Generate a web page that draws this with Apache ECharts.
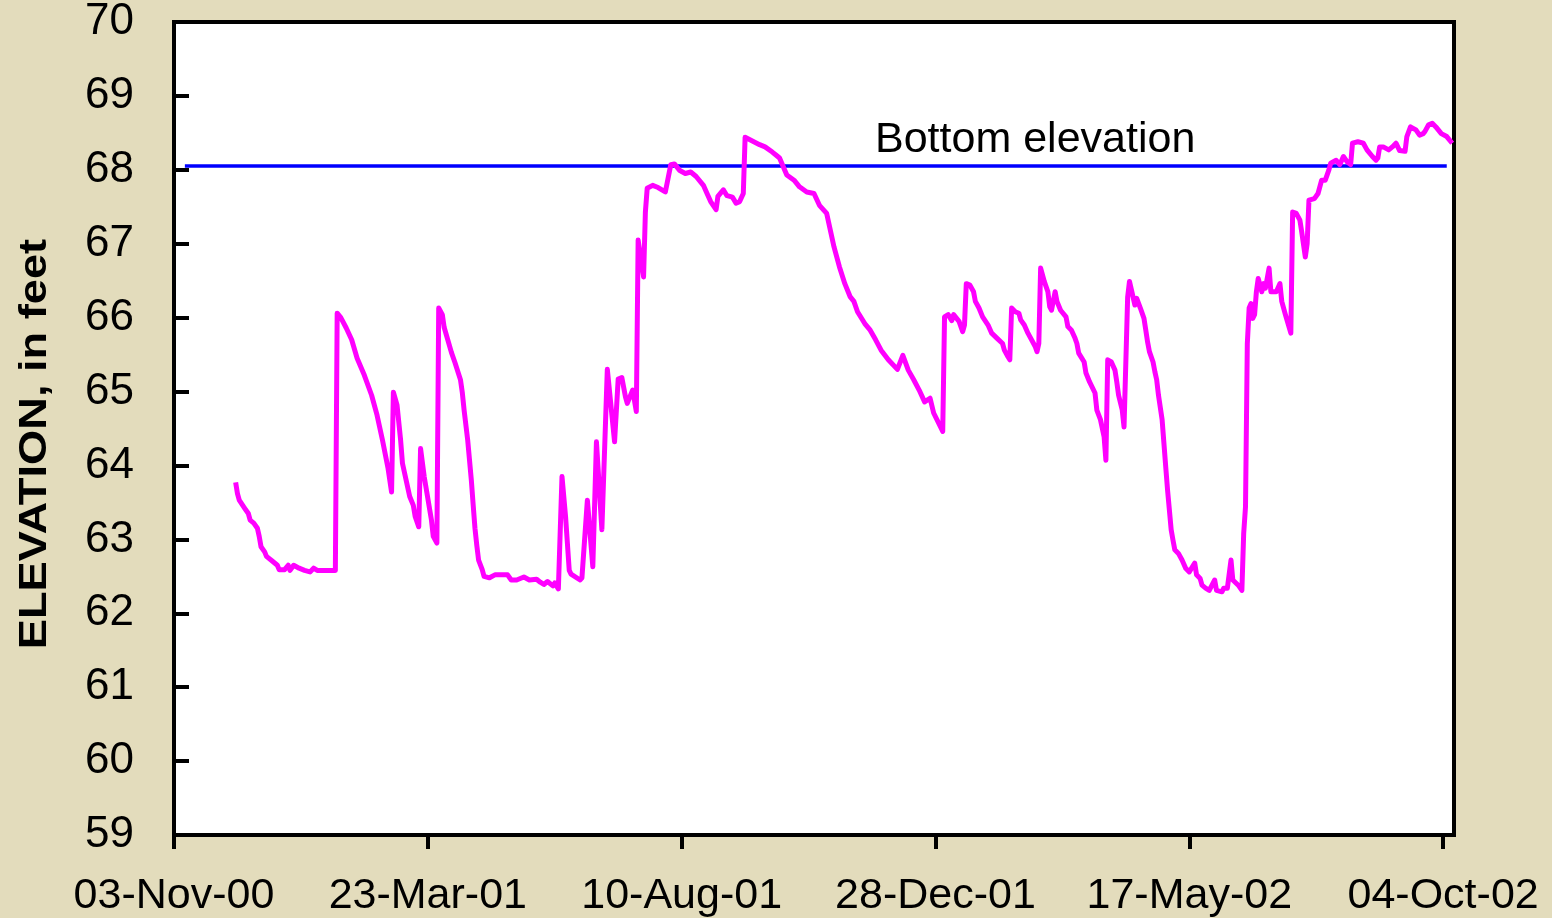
<!DOCTYPE html>
<html>
<head>
<meta charset="utf-8">
<title>Elevation</title>
<script src="https://cdn.jsdelivr.net/npm/echarts@6/dist/echarts.min.js"></script>
<style>
  html, body { margin: 0; padding: 0; background: #e3dcbc; }
  #chart { width: 1552px; height: 918px; }
</style>
</head>
<body>
<div id="chart"></div>
<script>
// axis range and ticks
const startDate = "2000-11-03";
const endDate = "2002-10-10";
const xTickLabels = ["03-Nov-00", "23-Mar-01", "10-Aug-01", "28-Dec-01", "17-May-02", "04-Oct-02"];
const xTickStepDays = 140;

// water level record
const dates = [
  "2000-12-07", "2000-12-08", "2000-12-09", "2000-12-12", "2000-12-14", "2000-12-15", "2000-12-17", "2000-12-19",
  "2000-12-20", "2000-12-21", "2000-12-23", "2000-12-24", "2000-12-27", "2000-12-30", "2000-12-31", "2001-01-03",
  "2001-01-05", "2001-01-06", "2001-01-08", "2001-01-11", "2001-01-14", "2001-01-17", "2001-01-19", "2001-01-21",
  "2001-01-31", "2001-02-01", "2001-02-03", "2001-02-06", "2001-02-09", "2001-02-12", "2001-02-16", "2001-02-20",
  "2001-02-23", "2001-02-26", "2001-03-01", "2001-03-03", "2001-03-04", "2001-03-06", "2001-03-08", "2001-03-09",
  "2001-03-13", "2001-03-15", "2001-03-16", "2001-03-18", "2001-03-19", "2001-03-21", "2001-03-25", "2001-03-26",
  "2001-03-28", "2001-03-29", "2001-03-31", "2001-04-01", "2001-04-05", "2001-04-07", "2001-04-10", "2001-04-11",
  "2001-04-12", "2001-04-14", "2001-04-16", "2001-04-17", "2001-04-18", "2001-04-19", "2001-04-20", "2001-04-22",
  "2001-04-23", "2001-04-26", "2001-04-29", "2001-05-06", "2001-05-08", "2001-05-11", "2001-05-15", "2001-05-18",
  "2001-05-22", "2001-05-24", "2001-05-26", "2001-05-28", "2001-05-31", "2001-06-01", "2001-06-03", "2001-06-05",
  "2001-06-07", "2001-06-09", "2001-06-10", "2001-06-15", "2001-06-16", "2001-06-19", "2001-06-22", "2001-06-24",
  "2001-06-27", "2001-06-30", "2001-07-04", "2001-07-06", "2001-07-08", "2001-07-10", "2001-07-11", "2001-07-14",
  "2001-07-16", "2001-07-17", "2001-07-20", "2001-07-21", "2001-07-22", "2001-07-25", "2001-07-28", "2001-08-01",
  "2001-08-02", "2001-08-04", "2001-08-06", "2001-08-09", "2001-08-12", "2001-08-15", "2001-08-18", "2001-08-22",
  "2001-08-24", "2001-08-26", "2001-08-29", "2001-08-30", "2001-09-02", "2001-09-04", "2001-09-07", "2001-09-09",
  "2001-09-11", "2001-09-13", "2001-09-14", "2001-09-18", "2001-09-22", "2001-09-25", "2001-09-29", "2001-10-01",
  "2001-10-03", "2001-10-07", "2001-10-11", "2001-10-14", "2001-10-18", "2001-10-22", "2001-10-25", "2001-10-29",
  "2001-11-02", "2001-11-05", "2001-11-08", "2001-11-11", "2001-11-13", "2001-11-15", "2001-11-19", "2001-11-22",
  "2001-11-25", "2001-11-28", "2001-12-02", "2001-12-07", "2001-12-10", "2001-12-13", "2001-12-16", "2001-12-19",
  "2001-12-22", "2001-12-25", "2001-12-27", "2002-01-01", "2002-01-02", "2002-01-04", "2002-01-06", "2002-01-07",
  "2002-01-10", "2002-01-12", "2002-01-13", "2002-01-14", "2002-01-16", "2002-01-18", "2002-01-19", "2002-01-21",
  "2002-01-23", "2002-01-26", "2002-01-28", "2002-01-31", "2002-02-03", "2002-02-04", "2002-02-06", "2002-02-07",
  "2002-02-08", "2002-02-10", "2002-02-12", "2002-02-13", "2002-02-15", "2002-02-17", "2002-02-18", "2002-02-21",
  "2002-02-22", "2002-02-23", "2002-02-24", "2002-02-26", "2002-02-28", "2002-03-01", "2002-03-02", "2002-03-04",
  "2002-03-05", "2002-03-07", "2002-03-10", "2002-03-11", "2002-03-13", "2002-03-15", "2002-03-16", "2002-03-17",
  "2002-03-20", "2002-03-21", "2002-03-23", "2002-03-26", "2002-03-27", "2002-03-29", "2002-03-31", "2002-04-01",
  "2002-04-02", "2002-04-04", "2002-04-06", "2002-04-07", "2002-04-08", "2002-04-10", "2002-04-11", "2002-04-13",
  "2002-04-14", "2002-04-17", "2002-04-18", "2002-04-20", "2002-04-22", "2002-04-23", "2002-04-24", "2002-04-25",
  "2002-04-27", "2002-04-28", "2002-04-29", "2002-04-30", "2002-05-02", "2002-05-03", "2002-05-04", "2002-05-05",
  "2002-05-06", "2002-05-07", "2002-05-08", "2002-05-09", "2002-05-11", "2002-05-13", "2002-05-15", "2002-05-17",
  "2002-05-20", "2002-05-21", "2002-05-23", "2002-05-24", "2002-05-26", "2002-05-28", "2002-05-31", "2002-06-01",
  "2002-06-04", "2002-06-05", "2002-06-07", "2002-06-09", "2002-06-10", "2002-06-13", "2002-06-15", "2002-06-16",
  "2002-06-17", "2002-06-18", "2002-06-19", "2002-06-20", "2002-06-21", "2002-06-22", "2002-06-23", "2002-06-24",
  "2002-06-26", "2002-06-27", "2002-06-28", "2002-06-30", "2002-07-01", "2002-07-04", "2002-07-06", "2002-07-07",
  "2002-07-09", "2002-07-12", "2002-07-13", "2002-07-15", "2002-07-17", "2002-07-18", "2002-07-20", "2002-07-21",
  "2002-07-22", "2002-07-25", "2002-07-27", "2002-07-28", "2002-07-29", "2002-07-31", "2002-08-02", "2002-08-03",
  "2002-08-06", "2002-08-08", "2002-08-10", "2002-08-12", "2002-08-14", "2002-08-15", "2002-08-18", "2002-08-21",
  "2002-08-23", "2002-08-26", "2002-08-28", "2002-08-29", "2002-08-30", "2002-09-01", "2002-09-04", "2002-09-06",
  "2002-09-08", "2002-09-10", "2002-09-13", "2002-09-14", "2002-09-16", "2002-09-19", "2002-09-21", "2002-09-23",
  "2002-09-24", "2002-09-26", "2002-09-28", "2002-09-30", "2002-10-03", "2002-10-06", "2002-10-09"
];
const elevation = [
  63.77, 63.62, 63.53, 63.42, 63.35, 63.26, 63.22, 63.15,
  63.04, 62.90, 62.83, 62.77, 62.71, 62.65, 62.59, 62.59,
  62.65, 62.58, 62.65, 62.61, 62.58, 62.56, 62.61, 62.58,
  62.58, 66.06, 66.00, 65.86, 65.70, 65.45, 65.22, 64.95,
  64.68, 64.34, 63.97, 63.64, 64.99, 64.82, 64.34, 64.03,
  63.58, 63.46, 63.31, 63.17, 64.23, 63.85, 63.26, 63.04,
  62.95, 66.13, 66.04, 65.87, 65.53, 65.39, 65.16, 64.99,
  64.75, 64.34, 63.80, 63.47, 63.15, 62.92, 62.72, 62.59,
  62.50, 62.48, 62.52, 62.52, 62.45, 62.45, 62.49, 62.45,
  62.46, 62.42, 62.39, 62.43, 62.37, 62.41, 62.33, 63.85,
  63.30, 62.58, 62.53, 62.45, 62.48, 63.53, 62.63, 64.32,
  63.13, 65.30, 64.32, 65.17, 65.19, 64.93, 64.84, 65.02,
  64.73, 67.05, 66.55, 67.43, 67.75, 67.79, 67.76, 67.70,
  67.82, 68.07, 68.08, 67.99, 67.95, 67.97, 67.91, 67.79,
  67.68, 67.57, 67.46, 67.64, 67.73, 67.65, 67.63, 67.55,
  67.57, 67.68, 68.44, 68.39, 68.34, 68.31, 68.24, 68.20,
  68.16, 67.93, 67.86, 67.77, 67.70, 67.68, 67.52, 67.41,
  66.96, 66.69, 66.46, 66.28, 66.22, 66.08, 65.92, 65.83,
  65.70, 65.56, 65.43, 65.30, 65.49, 65.29, 65.16, 65.02,
  64.86, 64.91, 64.71, 64.46, 66.01, 66.04, 65.96, 66.04,
  65.95, 65.81, 65.90, 66.46, 66.44, 66.35, 66.22, 66.13,
  66.01, 65.90, 65.79, 65.72, 65.65, 65.56, 65.47, 65.43,
  66.13, 66.08, 66.06, 65.97, 65.90, 65.79, 65.77, 65.61,
  65.54, 65.65, 66.67, 66.49, 66.35, 66.15, 66.10, 66.35,
  66.22, 66.10, 66.01, 65.88, 65.83, 65.72, 65.65, 65.52,
  65.40, 65.25, 65.13, 64.98, 64.75, 64.62, 64.39, 64.07,
  65.43, 65.40, 65.29, 65.13, 64.95, 64.75, 64.52, 66.28,
  66.49, 66.17, 66.26, 66.13, 65.99, 65.83, 65.67, 65.54,
  65.40, 65.27, 65.16, 64.95, 64.62, 64.30, 63.98, 63.67,
  63.40, 63.13, 62.99, 62.86, 62.81, 62.72, 62.61, 62.56,
  62.68, 62.52, 62.47, 62.38, 62.34, 62.31, 62.45, 62.31,
  62.29, 62.34, 62.34, 62.72, 62.45, 62.38, 62.31, 63.08,
  63.44, 65.65, 66.13, 66.19, 65.99, 66.04, 66.35, 66.53,
  66.35, 66.46, 66.40, 66.67, 66.35, 66.35, 66.46, 66.22,
  66.04, 65.79, 67.43, 67.41, 67.32, 67.16, 66.82, 67.00,
  67.59, 67.61, 67.68, 67.66, 67.86, 67.86, 68.00, 68.09,
  68.13, 68.07, 68.18, 68.11, 68.07, 68.36, 68.38, 68.36,
  68.27, 68.18, 68.13, 68.16, 68.31, 68.31, 68.27, 68.31,
  68.36, 68.26, 68.25, 68.45, 68.58, 68.54, 68.47, 68.49,
  68.52, 68.61, 68.63, 68.58, 68.49, 68.45, 68.36
];

// bottom elevation reference line
const bottomDates = ["2000-11-09", "2002-10-06"];
const bottomElevation = [68.05, 68.05];
const bottomLabel = "Bottom elevation";

const DAY = 86400000;
const t0 = Date.parse(startDate);
const toDay = (s) => (Date.parse(s) - t0) / DAY;

const levelData = dates.map((d, i) => [toDay(d), elevation[i]]);
const bottomData = bottomDates.map((d, i) => [toDay(d), bottomElevation[i]]);

const chart = echarts.init(document.getElementById("chart"));

const option = {
  backgroundColor: "#e3dcbc",
  animation: false,
  textStyle: { fontFamily: "Liberation Sans, Arial, sans-serif" },
  grid: {
    left: 174,
    right: 98,
    top: 22,
    bottom: 83,
    show: true,
    backgroundColor: "#ffffff",
    borderColor: "#000",
    borderWidth: 4,
    containLabel: false,
  },
  xAxis: {
    type: "value",
    min: 0,
    max: toDay(endDate),
    interval: xTickStepDays,
    axisLine: { onZero: false, lineStyle: { color: "#000", width: 4 } },
    axisTick: { inside: false, length: 14, lineStyle: { color: "#000", width: 4 } },
    splitLine: { show: false },
    axisLabel: {
      color: "#000",
      fontSize: 43,
      margin: 40,
      showMaxLabel: false,
      formatter: function (v) {
        if (v % xTickStepDays !== 0) return "";
        return xTickLabels[v / xTickStepDays] || "";
      },
    },
  },
  yAxis: {
    type: "value",
    min: 59,
    max: 70,
    interval: 1,
    axisLine: { lineStyle: { color: "#000", width: 4 } },
    axisTick: { inside: true, length: 15, lineStyle: { color: "#000", width: 4 } },
    splitLine: { show: false },
    axisLabel: { color: "#000", fontSize: 44, margin: 40 },
  },
  graphic: [
    {
      type: "text",
      x: 36,
      y: 444,
      rotation: Math.PI / 2,
      scaleX: 1.19,
      style: {
        text: "ELEVATION, in feet",
        fill: "#000",
        font: "bold 38px Liberation Sans, Arial, sans-serif",
        align: "center",
        verticalAlign: "middle",
      },
    },
    {
      type: "text",
      x: 875,
      y: 140,
      style: {
        text: bottomLabel,
        fill: "#000",
        font: "43px Liberation Sans, Arial, sans-serif",
        align: "left",
        verticalAlign: "middle",
      },
    },
  ],
  series: [
    {
      name: "Bottom elevation",
      type: "line",
      data: bottomData,
      showSymbol: false,
      lineStyle: { color: "#0000ff", width: 3.5 },
      z: 2,
    },
    {
      name: "Elevation",
      type: "line",
      data: levelData,
      showSymbol: false,
      clip: true,
      lineStyle: { color: "#ff00ff", width: 5, join: "round" },
      z: 3,
    },
  ],
};

chart.setOption(option);
window.addEventListener("resize", () => chart.resize());
</script>
</body>
</html>
